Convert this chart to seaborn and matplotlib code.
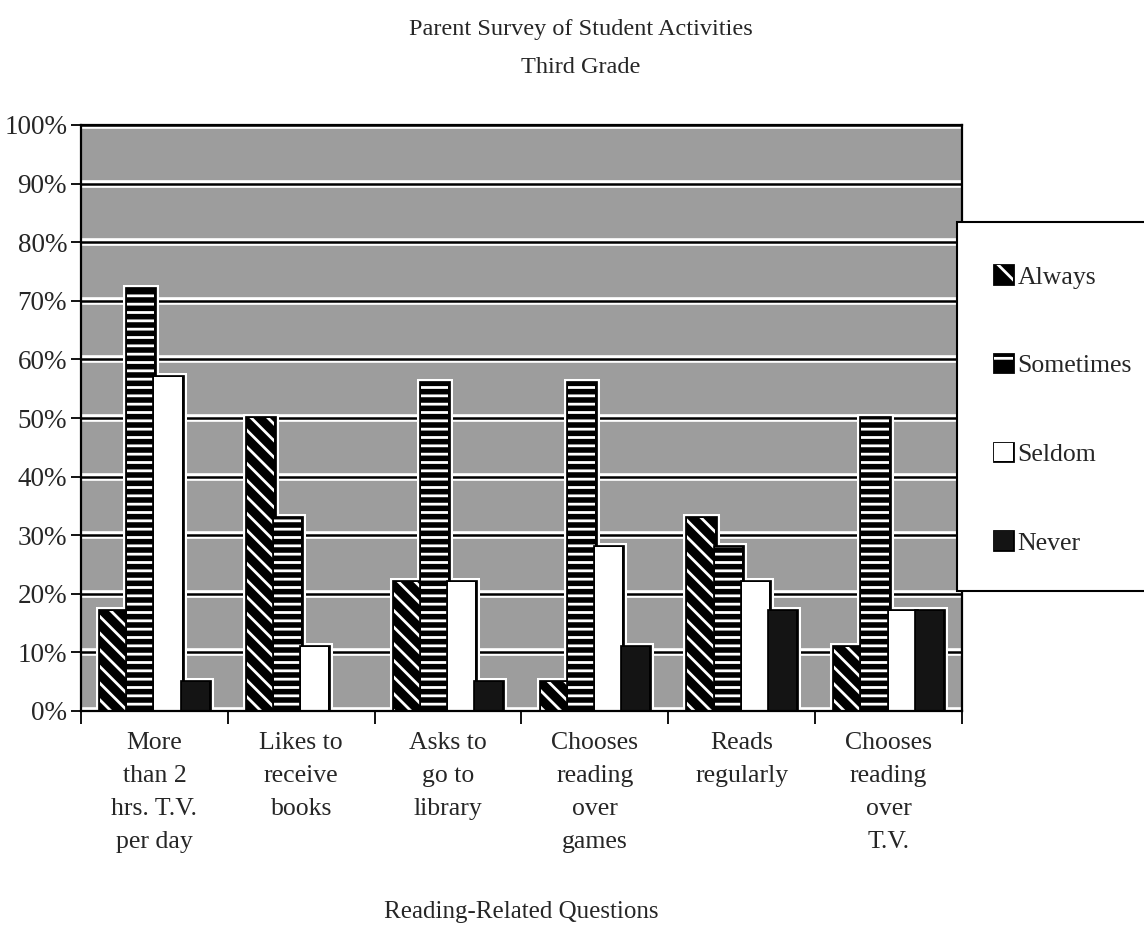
import numpy as np
import pandas as pd
import seaborn as sns
import matplotlib
matplotlib.use("Agg")
import matplotlib.pyplot as plt
import matplotlib.patheffects as pe
from matplotlib.patches import Patch, Rectangle

# ---- data -------------------------------------------------------------
questions = [
    "More\nthan 2\nhrs. T.V.\nper day",
    "Likes to\nreceive\nbooks",
    "Asks to\ngo to\nlibrary",
    "Chooses\nreading\nover\ngames",
    "Reads\nregularly",
    "Chooses\nreading\nover\nT.V.",
]
responses = ["Always", "Sometimes", "Seldom", "Never"]
always = [17, 50, 22, 5, 33, 11]
sometimes = [72, 33, 56, 56, 28, 50]
seldom = [57, 11, 22, 28, 22, 17]
never = [5, 0, 5, 11, 17, 17]
y_ticks = list(range(0, 101, 10))
y_tick_labels = [f"{v}%" for v in y_ticks]
title_lines = ["Parent Survey of Student Activities", "Third Grade"]
x_title = "Reading-Related Questions"

rows = []
for resp, vals in zip(responses, [always, sometimes, seldom, never]):
    for q, v in zip(questions, vals):
        rows.append({"question": q, "response": resp, "pct": v})
df = pd.DataFrame(rows)

# fill / hatch styling per response (bar hatch, legend-swatch hatch)
styles = {
    "Always": dict(face="black", hatch="\\\\", key_hatch="\\", hatch_color="white"),
    "Sometimes": dict(face="black", hatch="--", key_hatch="-", hatch_color="white"),
    "Seldom": dict(face="white", hatch="", key_hatch="", hatch_color="white"),
    "Never": dict(face="#141414", hatch="", key_hatch="", hatch_color="#141414"),
}

# ---- style ------------------------------------------------------------
sns.set_style("ticks")
plt.rcParams["font.family"] = ["Liberation Serif", "DejaVu Serif"]
plt.rcParams["hatch.linewidth"] = 2.0

fig = plt.figure(figsize=(11.44, 9.42), dpi=100)
ax = fig.add_axes([81 / 1144, 1 - 711 / 942, (962 - 81) / 1144, (711 - 125) / 942])
ax.set_facecolor("#9d9d9d")

outline = [pe.Stroke(linewidth=3.4, foreground="black"), pe.Normal()]

# white halo behind the bars
sns.barplot(data=df, x="question", y="pct", hue="response",
            order=questions, hue_order=responses, width=0.74,
            palette=["white"] * 4, saturation=1, errorbar=None,
            edgecolor="white", linewidth=6.5, legend=False, ax=ax, zorder=1.5)
for cont in ax.containers:
    for bar in cont:
        if bar.get_height() == 0:
            bar.set_linewidth(0)

# styled bars
sns.barplot(data=df, x="question", y="pct", hue="response",
            order=questions, hue_order=responses, width=0.74,
            palette=["black"] * 4, saturation=1, errorbar=None,
            legend=False, ax=ax, zorder=2)

main_containers = ax.containers[len(responses):]
for resp, cont in zip(responses, main_containers):
    st = styles[resp]
    for bar in cont:
        bar.set_facecolor(st["face"])
        bar.set_edgecolor(st["hatch_color"])
        bar.set_hatch(st["hatch"])
        bar.set_linewidth(0)
        if bar.get_height() > 0:
            bar.set_path_effects(outline)

# ---- axes -------------------------------------------------------------
ax.set_ylim(0, 100)
ax.set_xlim(-0.5, len(questions) - 0.5)
ax.set_yticks(y_ticks)
ax.set_yticklabels(y_tick_labels, fontsize=19.5)
ax.tick_params(axis="y", direction="out", length=7, width=1.3, pad=3, color="black")
ax.set_xticks(range(len(questions)))
ax.set_xticklabels(questions, fontsize=18.5)
for lbl in ax.get_xticklabels():
    lbl.set_linespacing(1.66)
ax.tick_params(axis="x", which="major", length=0, pad=15)
ax.set_xticks(np.arange(-0.5, len(questions), 1.0), minor=True)
ax.tick_params(axis="x", which="minor", direction="out", length=9, width=1.3, color="black")

ax.set_axisbelow(True)
ax.yaxis.grid(True, color="black", linewidth=1.8)
for gl in ax.get_ygridlines():
    gl.set_path_effects([pe.Stroke(linewidth=5.5, foreground="white"), pe.Normal()])

for sp in ax.spines.values():
    sp.set_visible(True)
    sp.set_color("black")
    sp.set_linewidth(1.6)

ax.set_ylabel("")
ax.set_xlabel(x_title, fontsize=18)
ax.xaxis.set_label_coords(0.5, -0.325)

# ---- title ------------------------------------------------------------
fig.text(581 / 1144, 1 - 35 / 942, title_lines[0], ha="center", va="baseline", fontsize=17.5)
fig.text(581 / 1144, 1 - 73 / 942, title_lines[1], ha="center", va="baseline", fontsize=17.5)

# ---- legend -----------------------------------------------------------
fig.add_artist(Rectangle((957 / 1144, 1 - 591 / 942), 0.25, (591 - 222) / 942,
                         transform=fig.transFigure, facecolor="white",
                         edgecolor="black", linewidth=1.5, clip_on=False, zorder=3))
handles = []
for resp in responses:
    st = styles[resp]
    h = Patch(facecolor=st["face"], edgecolor=st["hatch_color"], hatch=st["key_hatch"],
              linewidth=0, label=resp)
    h.set_path_effects([pe.Stroke(linewidth=2.0, foreground="black"), pe.Normal()])
    handles.append(h)
leg = fig.legend(handles=handles, loc="center left",
                 bbox_to_anchor=(994 / 1144, 1 - 410 / 942),
                 frameon=False, fontsize=18.5, handlelength=0.72, handleheight=0.72,
                 handletextpad=0.2, labelspacing=2.55, borderpad=0, borderaxespad=0)
leg.set_zorder(4)

fig.savefig("out.png", dpi=100)
